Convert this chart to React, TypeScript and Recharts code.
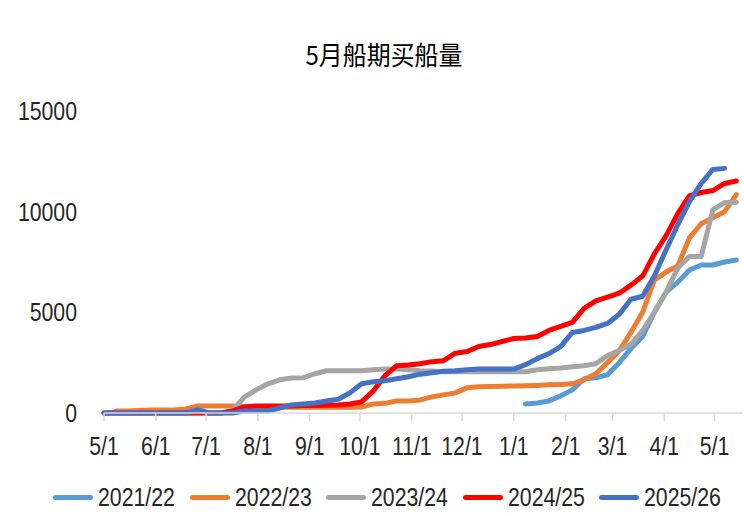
import { LineChart, Line, XAxis, YAxis } from 'recharts';

// day offsets from 5/1, one point per week
const weekDays = [
  0, 7, 14, 21, 28, 35, 42, 49, 56, 63, 70, 77, 84, 91, 98, 105, 112, 119, 126, 133,
  140, 147, 154, 161, 168, 175, 182, 189, 196, 203, 210, 217, 224, 231, 238, 245, 252, 259, 266, 273,
  280, 287, 294, 301, 308, 315, 322, 329, 336, 343, 350, 357, 364, 371, 378,
];

const monthTicks = [0, 31, 61, 92, 123, 153, 184, 214, 245, 276, 304, 335, 365];
const monthLabels = ['5/1', '6/1', '7/1', '8/1', '9/1', '10/1', '11/1', '12/1', '1/1', '2/1', '3/1', '4/1', '5/1'];
const yTicks = [0, 5000, 10000, 15000];

const s2122 = [
  null, null, null, null, null, null, null, null, null, null, null, null, null, null, null, null, null, null,
  null, null, null, null, null, null, null, null, null, null, null, null, null, null, null, null, null, null,
  450, 500, 600, 850, 1150, 1700, 1750, 1900, 2500, 3200, 3800, 5000, 6000, 6500, 7100, 7350, 7350, 7500, 7600,
];

const s2223 = [
  null, 100, 100, 120, 150, 150, 150,
  200, 350, 350, 350, 350,
  320, 300, 300, 300, 280, 280, 280, 280, 280, 280, 300,
  450, 480, 600, 600,
  650, 800, 900, 1000, 1250, 1300, 1320, 1330, 1340, 1350, 1370, 1400, 1420, 1450,
  1650, 1950, 2500, 3100, 4000, 5000, 6600, 7000, 7300, 8700, 9400, 9700, 10000, 10850,
];

const s2324 = [
  0, 0, 0, 0, 0, 0, 0, 0, 0, 0, 0,
  150, 800, 1150, 1450, 1650, 1740, 1750, 1950, 2100, 2100, 2100, 2100, 2150, 2180, 2180, 2150, 2100,
  2080, 2050, 2050, 2050, 2050, 2050, 2050, 2050, 2050,
  2150, 2200, 2230, 2300, 2350, 2450, 2850, 3100, 3400, 4100, 5000, 6000, 7200, 7770, 7770, 10100, 10450, 10470,
];

const s2425 = [
  0, 0, 0, 0, 0, 0, 0, 0, 0, 0, 0,
  100, 300, 350, 350, 350, 350, 370, 370, 380, 400, 450, 550,
  1100, 1850, 2350, 2380, 2450, 2550, 2600, 2970, 3050, 3300, 3400, 3550, 3700, 3730,
  3800, 4100, 4300, 4500, 5200, 5570, 5750, 5950, 6350, 6800, 7900, 8800, 9900, 10800, 10950, 11050, 11400, 11520,
];

const s2526 = [
  0, 0, 0, 0, 0, 0, 0, 0,
  170, 0, 0, 0, 100, 100, 100, 250, 400, 450, 500, 600, 680, 1000,
  1450, 1550, 1600, 1700, 1800, 1930, 2000, 2070, 2100, 2150, 2180, 2180, 2180, 2180,
  2400, 2700, 2950, 3300, 4000, 4100, 4250, 4450, 4900, 5650, 5800, 6800, 8100, 9350, 10500, 11400, 12100, 12150,
  null,
];

const series = [
  { key: 's2122', name: '2021/22', color: '#5B9BD5' },
  { key: 's2223', name: '2022/23', color: '#ED7D31' },
  { key: 's2324', name: '2023/24', color: '#A5A5A5' },
  { key: 's2425', name: '2024/25', color: '#FF0000' },
  { key: 's2526', name: '2025/26', color: '#4472C4' },
];

const data = weekDays.map((day, i) => ({
  day,
  s2122: s2122[i],
  s2223: s2223[i],
  s2324: s2324[i],
  s2425: s2425[i],
  s2526: s2526[i],
}));

const FONT = "'Liberation Sans', Arial, sans-serif";
const TEXT = '#262626';
const SQUEEZE = 0.85; // the reference font is narrow

const XTick = (props: any) => {
  const { x, y, payload } = props;
  return (
    <g transform={`translate(${x},${y})`}>
      <text
        transform={`scale(${SQUEEZE},1)`}
        textAnchor="middle"
        dy="0.82em"
        fill={TEXT}
        fontSize={25}
        fontFamily={FONT}
      >
        {monthLabels[monthTicks.indexOf(payload.value)]}
      </text>
    </g>
  );
};

const YTick = (props: any) => {
  const { x, y, payload } = props;
  return (
    <g transform={`translate(${x},${y})`}>
      <text
        transform={`scale(${SQUEEZE},1)`}
        textAnchor="end"
        dy="0.36em"
        fill={TEXT}
        fontSize={25}
        fontFamily={FONT}
      >
        {payload.value}
      </text>
    </g>
  );
};

export default function App() {
  return (
    <div style={{ position: 'absolute', left: 0, top: 0, width: 744, height: 516, background: '#fff', overflow: 'hidden' }}>
      {/* title */}
      <div
        style={{
          position: 'absolute',
          left: 0,
          width: 768,
          top: 41,
          height: 26,
          lineHeight: '26px',
          textAlign: 'center',
          fontFamily: "'Noto Sans CJK SC', sans-serif",
          fontSize: 26,
          color: '#000',
          transform: 'scaleX(0.92)',
          transformOrigin: '384px 0',
        }}
      >
        5月船期买船量
      </div>

      <LineChart width={744} height={516} data={data} margin={{ top: 111, right: 1, bottom: 73, left: 0 }}>
        <XAxis
          dataKey="day"
          type="number"
          domain={[0, 382]}
          ticks={monthTicks}
          interval={0}
          axisLine={{ stroke: '#d9d9d9', strokeWidth: 1.5 }}
          tickLine={{ stroke: '#d9d9d9', strokeWidth: 1.5 }}
          tickSize={8}
          tickMargin={13}
          tick={(p: any) => <XTick {...p} />}
          height={30}
        />
        <YAxis
          domain={[0, 15000]}
          ticks={yTicks}
          axisLine={false}
          tickLine={false}
          tickSize={0}
          tickMargin={27}
          width={104}
          tick={(p: any) => <YTick {...p} />}
        />
        {series.map(s => (
          <Line
            key={s.key}
            dataKey={s.key}
            name={s.name}
            stroke={s.color}
            strokeWidth={5}
            strokeLinejoin="round"
            strokeLinecap="round"
            dot={false}
            activeDot={false}
            isAnimationActive={false}
          />
        ))}
      </LineChart>

      {/* legend */}
      {series.map((s, i) => (
        <div
          key={s.key}
          style={{
            position: 'absolute',
            left: 53 + i * 136.5,
            top: 484,
            height: 26,
            display: 'flex',
            alignItems: 'center',
            whiteSpace: 'nowrap',
          }}
        >
          <div style={{ width: 40, height: 5, borderRadius: 3, background: s.color, marginRight: 5 }} />
          <span
            style={{
              display: 'inline-block',
              fontFamily: FONT,
              fontSize: 25,
              lineHeight: '26px',
              color: TEXT,
              transform: `scaleX(${SQUEEZE})`,
              transformOrigin: '0 0',
            }}
          >
            {s.name}
          </span>
        </div>
      ))}
    </div>
  );
}
